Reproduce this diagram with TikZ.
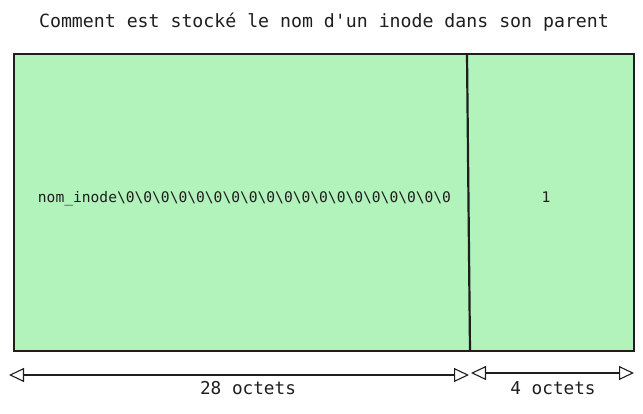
\documentclass[tikz,border=0pt]{standalone}
\usepackage{fontspec}
\setmonofont{DejaVu Sans Mono}
\usetikzlibrary{arrows.meta}
\definecolor{cellgreen}{HTML}{B2F2BB}
\definecolor{ink}{HTML}{1E1E1E}
\tikzset{
  cell/.style={fill=cellgreen, draw=ink, line width=2.2pt},
  divider/.style={draw=ink, line width=2.2pt},
  celltext/.style={font=\fontsize{14.6}{16}\selectfont\ttfamily, text=ink},
  label/.style={font=\fontsize{17.7}{20}\selectfont\ttfamily, text=ink},
  titletext/.style={font=\fontsize{18.2}{20}\selectfont\ttfamily, text=ink},
  span/.style={draw=ink, line width=1.1pt, {Triangle[open,length=15pt,width=14pt]}-{Triangle[open,length=15pt,width=14pt]}}
}
\begin{document}
\begin{tikzpicture}[x=1pt,y=-1pt]
\useasboundingbox (0,0) rectangle (643,413);
% title
\node[titletext] (title) at (324,22) {Comment est stocké le nom d'un inode dans son parent};
% cells
\coordinate (tl) at (14,54);
\coordinate (br) at (634,351);
\coordinate (dtop) at (467,54);
\coordinate (dbot) at (470,351);
\path[cell] (tl) rectangle (br);
\draw[divider] (dtop) -- (dbot);
\node[celltext] (name) at (244.5,199) {nom\_inode\textbackslash 0\textbackslash 0\textbackslash 0\textbackslash 0\textbackslash 0\textbackslash 0\textbackslash 0\textbackslash 0\textbackslash 0\textbackslash 0\textbackslash 0\textbackslash 0\textbackslash 0\textbackslash 0\textbackslash 0\textbackslash 0\textbackslash 0\textbackslash 0\textbackslash 0};
\node[celltext] (num) at (546,197) {1};
% spans
\coordinate (a1) at (9,375);
\coordinate (a2) at (469,375);
\coordinate (b1) at (471,373);
\coordinate (b2) at (634,373);
\draw[span] (a1) -- (a2);
\draw[span] (b1) -- (b2);
\node[label] (l28) at (248,388) {28 octets};
\node[label] (l4) at (553,388) {4 octets};
\end{tikzpicture}
\end{document}
